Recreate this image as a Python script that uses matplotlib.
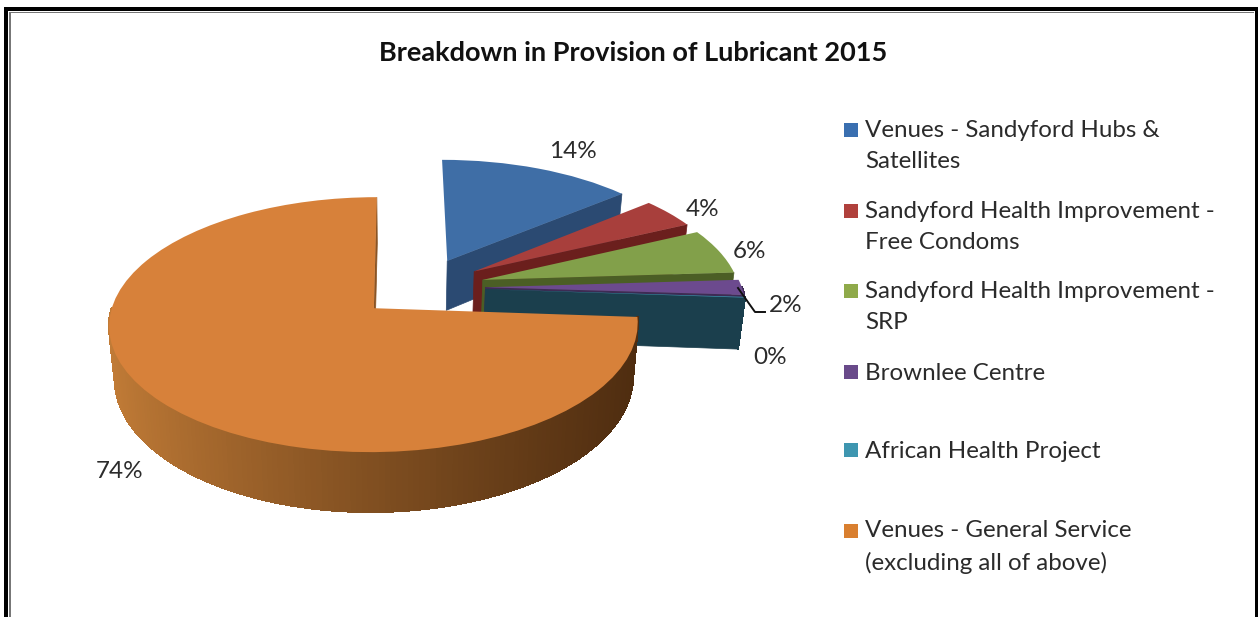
import matplotlib
matplotlib.use("Agg")
import matplotlib.pyplot as plt
import numpy as np
from matplotlib.collections import PolyCollection
from matplotlib.colors import to_rgb
from matplotlib.patches import Rectangle
from matplotlib.transforms import Transform

plt.rcParams['font.family'] = ['Lato', 'DejaVu Sans']

title = "Breakdown in Provision of Lubricant 2015"
categories = [
    "Venues - Sandyford Hubs &\nSatellites",
    "Sandyford Health Improvement -\nFree Condoms",
    "Sandyford Health Improvement -\nSRP",
    "Brownlee Centre",
    "African Health Project",
    "Venues - General Service\n(excluding all of above)",
]
values = [14, 4, 6, 2, 0.1, 73.9]

top_colors = ["#3F6EA6", "#A83F3C", "#82A04A", "#6C4A8E", "#3C94AE", "#D7813A"]
legend_colors = ["#3A6FB0", "#B0403C", "#8FAA4A", "#694A8A", "#3E96B0", "#D97F2F"]
side_colors = ["#2B4A72", "#6B1F1D", "#4B5E25", "#3D2B54", "#1B3F4D", "#8A5424"]

W, H = 1258, 617
# pie plane -> screen
KX, KY = 262, 125.3
OX, OY = 400, 308
PERSP = 0.129
DEPTH = 0.415
DEPTH_X = 0.98


def project(x, y):
    d = 1 + PERSP * y
    return x / d, y / d


def lower(x, y):
    # same point on the underside of the pie
    px, py = project(x, y)
    return px * DEPTH_X, py - DEPTH / (1 + PERSP * y)


class Perspective(Transform):
    input_dims = 2
    output_dims = 2
    is_separable = False

    def transform_non_affine(self, values):
        v = np.asarray(values, dtype=float)
        px, py = project(v[:, 0], v[:, 1])
        return np.column_stack([px, py])


fig = plt.figure(figsize=(W / 100, H / 100), dpi=100, facecolor="white")
ax = fig.add_axes([0, 0, 1, 1], zorder=1)

wedges, _ = ax.pie(values, colors=top_colors, explode=[0.25] * len(values),
                   center=(0.083, 0.169), radius=1, startangle=90,
                   counterclock=False, wedgeprops={"linewidth": 0})
ax.set_aspect("auto")
ax.set_xlim(-OX / KX, (W - OX) / KX)
ax.set_ylim((OY - H) / KY, OY / KY)
ax.set_axis_off()

to_screen = Perspective() + ax.transData
z = 2
for wedge, side in zip(wedges, side_colors):
    cx, cy = wedge.center
    t1, t2 = np.radians(wedge.theta1), np.radians(wedge.theta2)
    r = wedge.r

    # cut face on the clockwise edge
    ex, ey = cx + r * np.cos(t1), cy + r * np.sin(t1)
    face = [project(cx, cy), project(ex, ey), lower(ex, ey), lower(cx, cy)]
    ax.fill(*zip(*face), color=side, lw=0.5, zorder=z)

    # outer rim, only the part facing the viewer
    lo, hi = max(t1, -np.pi), min(t2, 0)
    if hi > lo:
        th = np.linspace(lo, hi, 160)
        xs, ys = cx + r * np.cos(th), cy + r * np.sin(th)
        tx, ty = project(xs, ys)
        bx, by = lower(xs, ys)
        quads = [[(tx[i], ty[i]), (tx[i + 1], ty[i + 1]),
                  (bx[i + 1], by[i + 1]), (bx[i], by[i])] for i in range(len(th) - 1)]
        if wedge is wedges[-1]:
            light, dark = np.array(to_rgb("#C27C37")), np.array(to_rgb("#4F2D10"))
            f = (tx[:-1] - tx.min()) / (tx.max() - tx.min())
            cols = [light + (dark - light) * v ** 0.8 for v in f]
        else:
            cols = [side] * len(quads)
        ax.add_collection(PolyCollection(quads, facecolors=cols, edgecolors=cols,
                                         linewidths=1, antialiaseds=False, zorder=z))

    wedge.set_transform(to_screen)
    wedge.set_zorder(z + 0.5)
    z += 1

# everything else is placed in image pixels
ov = fig.add_axes([0, 0, 1, 1], zorder=2)
ov.set_xlim(0, W)
ov.set_ylim(H, 0)
ov.set_axis_off()
ov.patch.set_alpha(0)

# double border, open at the bottom
ov.add_patch(Rectangle((4, 7), 3.5, H, color="black", lw=0))
ov.add_patch(Rectangle((4, 7), W, 3.5, color="black", lw=0))
ov.add_patch(Rectangle((1255, 7), 3, H, color="black", lw=0))
ov.add_patch(Rectangle((9, 12), 1.5, H, color="#777777", lw=0))
ov.add_patch(Rectangle((9, 12), 1245, 1.2, color="#777777", lw=0))

text_color = "#2b2b2b"
ov.text(633, 53, title, ha="center", va="center", fontsize=19.5,
        fontweight="bold", color="#111111")

# data labels
label_x = [573, 703, 749, 786, 770, 120]
label_y = [151, 209, 252, 306, 357, 472]
for v, lx, ly in zip(values, label_x, label_y):
    ov.text(lx, ly, f"{v:.0f}%", ha="center", va="center", fontsize=17.5, color=text_color)

# leader line for the 2% label
ov.plot([738, 755, 765], [288, 312, 312], color="#111111", lw=1.4)

# legend
legend_y = [146, 227, 307, 373, 451, 547]
for name, col, ly in zip(categories, legend_colors, legend_y):
    first = ly - 16 if "\n" in name else ly - 1
    ov.add_patch(Rectangle((844, first - 7), 14, 14, color=col, lw=0))
    ov.text(865, ly, name, ha="left", va="center", fontsize=17.4,
            color=text_color, linespacing=1.55)

fig.savefig("out.png", dpi=100)
